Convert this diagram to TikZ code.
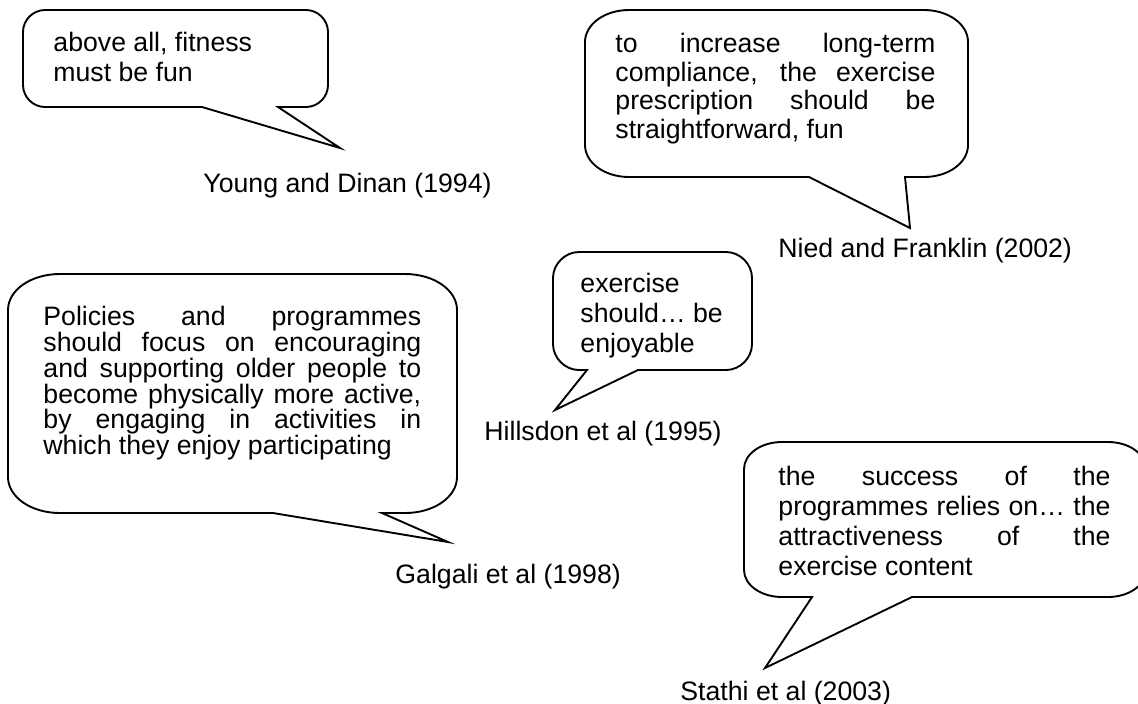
\documentclass[tikz,border=0pt]{standalone}
\usepackage{fontspec}
\setmainfont{Liberation Sans}
\tolerance=10000
\hbadness=10000
\hyphenpenalty=10000
\tikzset{
	bubble/.style={line width=0.85pt},
	saying/.style={anchor=north west,inner sep=0pt,font=\fontsize{12pt}{13.5pt}\selectfont},
	source/.style={anchor=base west,inner sep=0pt,font=\fontsize{12pt}{13.5pt}\selectfont}
}
\begin{document}
\begin{tikzpicture}[x=0.45pt,y=-0.45pt]
	\useasboundingbox (0,0) rectangle (1138,703);
	\clip (0,0) rectangle (1138,703);
	% Young and Dinan
	\draw[bubble] (202,107) -- (45,107) .. controls (33,107) and (23,97) .. (23,85) -- (23,32) .. controls (23,20) and (33,10) .. (45,10) -- (306,10) .. controls (318,10) and (328,20) .. (328,32) -- (328,85) .. controls (328,97) and (318,107) .. (306,107) -- (278,107) -- (340,148) -- cycle;
	\node[saying,align=left] (young) at (53,32) {above all, fitness\\must be fun};
	\node[source] (youngsrc) at (203,192) {Young and Dinan (1994)};
	% Nied and Franklin
	\draw[bubble] (809,177) -- (629,177) .. controls (605,177) and (585,163) .. (585,145) -- (585,42) .. controls (585,24) and (605,10) .. (629,10) -- (924,10) .. controls (948,10) and (968,24) .. (968,42) -- (968,145) .. controls (968,163) and (948,177) .. (924,177) -- (905,177) -- (910,228) -- cycle;
	\node[saying,text width=144pt,align=justify,font=\fontsize{12pt}{12.8pt}\selectfont] (nied) at (615,33) {to increase long-term\linebreak compliance, the exercise\linebreak prescription should be\linebreak straightforward, fun};
	\node[source] (niedsrc) at (778,257) {Nied and Franklin (2002)};
	% Galgali et al
	\draw[bubble] (273,513) -- (60,513) .. controls (31,513) and (8,497) .. (8,477) -- (8,310) .. controls (8,290) and (31,274) .. (60,274) -- (405,274) .. controls (434,274) and (457,290) .. (457,310) -- (457,477) .. controls (457,497) and (434,513) .. (405,513) -- (382,513) -- (448,542) -- cycle;
	\node[saying,text width=170pt,align=justify,font=\fontsize{12pt}{11.6pt}\selectfont] (galgali) at (43,306) {Policies and programmes\linebreak should focus on encouraging\linebreak and supporting older people to\linebreak become physically more active,\linebreak by engaging in activities in\linebreak which they enjoy participating};
	\node[source] (galgalisrc) at (395,583) {Galgali et al (1998)};
	% Hillsdon et al
	\draw[bubble] (638,370) -- (726,370) .. controls (740,370) and (752,358) .. (752,344) -- (752,278) .. controls (752,264) and (740,252) .. (726,252) -- (579,252) .. controls (565,252) and (553,264) .. (553,278) -- (553,344) .. controls (553,358) and (565,370) .. (579,370) -- (587,370) -- (555,410) -- cycle;
	\node[saying,align=left] (hillsdon) at (580,273) {exercise\\should\ldots\ be\\enjoyable};
	\node[source] (hillsdonsrc) at (484,440) {Hillsdon et al (1995)};
	% Stathi et al
	\draw[bubble] (912,597) -- (1108,597) .. controls (1129,597) and (1146,585) .. (1146,570) -- (1146,469) .. controls (1146,454) and (1129,442) .. (1108,442) -- (782,442) .. controls (761,442) and (744,454) .. (744,469) -- (744,570) .. controls (744,585) and (761,597) .. (782,597) -- (812,597) -- (765,668) -- cycle;
	\node[saying,text width=149.4pt,align=justify] (stathi) at (778,466) {the success of the\linebreak programmes relies on… the\linebreak attractiveness of the\linebreak exercise content};
	\node[source] (stathisrc) at (680,700) {Stathi et al (2003)};
\end{tikzpicture}
\end{document}
